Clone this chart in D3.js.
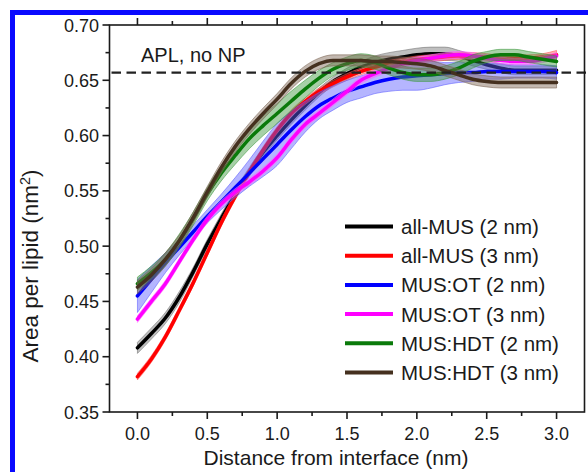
<!DOCTYPE html>
<html>
<head>
<meta charset="utf-8">
<script src="https://cdn.jsdelivr.net/npm/d3@7"></script>
<style>
    body { margin: 0; background: #fff; }
    svg text { font-family: "Liberation Sans", Arial, sans-serif; fill: #1a1a1a; }
</style>
</head>
<body>
<svg width="588" height="472"></svg>
<script>
    // distance from interface (nm)
    const distance = [0.0, 0.1, 0.2, 0.3, 0.4, 0.5, 0.6, 0.7, 0.8, 0.9, 1.0,
        1.1, 1.2, 1.3, 1.4, 1.5, 1.6, 1.7, 1.8, 1.9, 2.0,
        2.1, 2.2, 2.3, 2.4, 2.5, 2.6, 2.7, 2.8, 2.9, 3.0];

    // area per lipid (nm2), mean and spread
    const allMus2 = [0.408, 0.421, 0.435, 0.454, 0.477, 0.502, 0.525, 0.547, 0.567, 0.585, 0.600,
        0.614, 0.627, 0.639, 0.649, 0.656, 0.662, 0.666, 0.669, 0.671, 0.673,
        0.674, 0.674, 0.672, 0.668, 0.664, 0.661, 0.659, 0.659, 0.659, 0.659];
    const allMus2Sd = [0.005, 0.005, 0.005, 0.005, 0.004, 0.004, 0.004, 0.004, 0.004, 0.004, 0.004,
        0.004, 0.004, 0.004, 0.004, 0.005, 0.005, 0.006, 0.006, 0.006, 0.006,
        0.006, 0.006, 0.005, 0.005, 0.004, 0.004, 0.004, 0.004, 0.004, 0.004];

    const allMus3 = [0.382, 0.398, 0.418, 0.442, 0.467, 0.494, 0.521, 0.545, 0.567, 0.587, 0.605,
        0.620, 0.631, 0.640, 0.647, 0.653, 0.658, 0.662, 0.665, 0.667, 0.669,
        0.670, 0.671, 0.672, 0.672, 0.671, 0.670, 0.670, 0.670, 0.671, 0.673];
    const allMus3Sd = [0.003, 0.003, 0.003, 0.003, 0.003, 0.003, 0.003, 0.003, 0.003, 0.003, 0.003,
        0.003, 0.003, 0.003, 0.003, 0.003, 0.003, 0.003, 0.003, 0.003, 0.003,
        0.003, 0.003, 0.003, 0.003, 0.003, 0.003, 0.003, 0.003, 0.003, 0.004];

    const musOt2 = [0.455, 0.470, 0.485, 0.499, 0.513, 0.527, 0.540, 0.553, 0.566, 0.579, 0.592,
        0.605, 0.617, 0.627, 0.634, 0.640, 0.644, 0.648, 0.651, 0.653, 0.654,
        0.655, 0.656, 0.657, 0.657, 0.658, 0.658, 0.658, 0.658, 0.658, 0.657];
    const musOt2Sd = [0.015, 0.012, 0.009, 0.007, 0.006, 0.006, 0.007, 0.009, 0.012, 0.016, 0.019,
        0.017, 0.014, 0.012, 0.011, 0.010, 0.010, 0.010, 0.011, 0.012, 0.013,
        0.012, 0.010, 0.009, 0.008, 0.007, 0.007, 0.006, 0.006, 0.006, 0.006];

    const musOt3 = [0.434, 0.450, 0.466, 0.486, 0.506, 0.524, 0.538, 0.549, 0.558, 0.568, 0.580,
        0.596, 0.610, 0.620, 0.630, 0.640, 0.650, 0.656, 0.661, 0.665, 0.668,
        0.670, 0.672, 0.673, 0.672, 0.670, 0.668, 0.667, 0.667, 0.669, 0.672];
    const musOt3Sd = [0.003, 0.003, 0.003, 0.003, 0.003, 0.003, 0.003, 0.003, 0.003, 0.003, 0.003,
        0.003, 0.003, 0.003, 0.003, 0.003, 0.003, 0.003, 0.003, 0.003, 0.003,
        0.003, 0.003, 0.003, 0.003, 0.003, 0.003, 0.003, 0.003, 0.003, 0.003];

    const musHdt2 = [0.466, 0.476, 0.488, 0.505, 0.525, 0.547, 0.566, 0.582, 0.597, 0.609, 0.620,
        0.631, 0.642, 0.652, 0.660, 0.665, 0.668, 0.666, 0.661, 0.657, 0.655,
        0.655, 0.657, 0.661, 0.667, 0.671, 0.673, 0.673, 0.671, 0.669, 0.667];
    const musHdt2Sd = [0.006, 0.006, 0.006, 0.006, 0.006, 0.006, 0.007, 0.008, 0.009, 0.009, 0.009,
        0.009, 0.008, 0.007, 0.006, 0.006, 0.006, 0.006, 0.006, 0.006, 0.006,
        0.006, 0.006, 0.006, 0.006, 0.005, 0.005, 0.005, 0.005, 0.005, 0.005];

    const musHdt3 = [0.463, 0.474, 0.488, 0.505, 0.526, 0.549, 0.571, 0.590, 0.606, 0.620, 0.633,
        0.647, 0.658, 0.665, 0.668, 0.668, 0.668, 0.667, 0.667, 0.666, 0.665,
        0.663, 0.659, 0.655, 0.651, 0.649, 0.648, 0.648, 0.648, 0.648, 0.648];
    const musHdt3Sd = [0.006, 0.006, 0.006, 0.005, 0.005, 0.005, 0.005, 0.005, 0.005, 0.005, 0.005,
        0.005, 0.005, 0.005, 0.005, 0.005, 0.005, 0.005, 0.005, 0.005, 0.005,
        0.005, 0.005, 0.005, 0.005, 0.005, 0.005, 0.005, 0.005, 0.005, 0.005];

    const seriesNames = ["all-MUS (2 nm)", "all-MUS (3 nm)", "MUS:OT (2 nm)",
        "MUS:OT (3 nm)", "MUS:HDT (2 nm)", "MUS:HDT (3 nm)"];
    const seriesMeans = [allMus2, allMus3, musOt2, musOt3, musHdt2, musHdt3];
    const seriesSds = [allMus2Sd, allMus3Sd, musOt2Sd, musOt3Sd, musHdt2Sd, musHdt3Sd];
    const lineColors = ["#000000", "#ff0000", "#0000ff", "#ff00ff", "#0a7a0a", "#45301f"];
    const bandColors = ["#707070", "#ff5050", "#5a5aff", "#ff60ff", "#3c963c", "#7a6250"];

    const apl = 0.657; // APL without NP
    const xTicks = [0.0, 0.5, 1.0, 1.5, 2.0, 2.5, 3.0];
    const yTicks = [0.35, 0.40, 0.45, 0.50, 0.55, 0.60, 0.65, 0.70];

    let svg = d3.select("svg");

    // blue frame of the figure
    svg.append("path")
        .attr("d", "M12.5,472 V12.5 H588")
        .attr("fill", "none")
        .attr("stroke", "#0a0aff")
        .attr("stroke-width", 5);

    let plotLeft = 109.5, plotRight = 584.5, plotTop = 25, plotBottom = 412;

    let x = d3.scaleLinear().domain([-0.2, 3.2]).range([plotLeft, plotRight]);
    let y = d3.scaleLinear().domain([0.35, 0.70]).range([plotBottom, plotTop]);

    // bands and mean lines
    let area = d3.area()
        .x(d => x(d.d))
        .y0(d => y(d.m - d.s))
        .y1(d => y(d.m + d.s))
        .curve(d3.curveMonotoneX);
    let line = d3.line()
        .x(d => x(d.d))
        .y(d => y(d.m))
        .curve(d3.curveMonotoneX);

    let curves = svg.append("g").attr("id", "curves");
    seriesMeans.forEach((means, i) => {
        let pts = distance.map((d, j) => ({ d: d, m: means[j], s: seriesSds[i][j] }));
        curves.append("path")
            .datum(pts)
            .attr("d", area)
            .attr("fill", bandColors[i])
            .attr("fill-opacity", 0.45)
            .attr("stroke", bandColors[i])
            .attr("stroke-opacity", 0.7)
            .attr("stroke-width", 0.8);
        curves.append("path")
            .datum(pts)
            .attr("d", line)
            .attr("fill", "none")
            .attr("stroke", lineColors[i])
            .attr("stroke-width", 3.5)
            .attr("stroke-linecap", "round");
    });

    // reference line
    svg.append("line")
        .attr("x1", plotLeft + 2).attr("x2", 588)
        .attr("y1", y(apl)).attr("y2", y(apl))
        .attr("stroke", "#222")
        .attr("stroke-width", 2.2)
        .attr("stroke-dasharray", "9.5,5.5");

    svg.append("text")
        .attr("x", 141).attr("y", 62)
        .style("font-size", "20px")
        .text("APL, no NP");

    // axes
    let axes = svg.append("g").attr("stroke", "#1a1a1a").attr("stroke-width", 1.6);
    axes.append("rect")
        .attr("x", plotLeft).attr("y", plotTop)
        .attr("width", plotRight - plotLeft).attr("height", plotBottom - plotTop)
        .attr("fill", "none");

    let xMinor = d3.range(-0.25, 3.26, 0.25).filter(v => v > -0.2 && v < 3.2);
    let yMinor = d3.range(0.35, 0.701, 0.025);

    xMinor.forEach(v => {
        let major = xTicks.some(t => Math.abs(t - v) < 1e-6);
        let len = major ? 7 : 4;
        axes.append("line").attr("x1", x(v)).attr("x2", x(v))
            .attr("y1", plotBottom).attr("y2", plotBottom + len);
        axes.append("line").attr("x1", x(v)).attr("x2", x(v))
            .attr("y1", plotTop).attr("y2", plotTop - len);
    });
    yMinor.forEach(v => {
        let major = yTicks.some(t => Math.abs(t - v) < 1e-6);
        let len = major ? 7 : 4;
        axes.append("line").attr("x1", plotLeft).attr("x2", plotLeft - len)
            .attr("y1", y(v)).attr("y2", y(v));
    });

    svg.append("g").selectAll("text")
        .data(xTicks)
        .enter()
        .append("text")
        .attr("x", d => x(d))
        .attr("y", 440)
        .attr("text-anchor", "middle")
        .style("font-size", "18px")
        .text(d => d.toFixed(1));

    svg.append("g").selectAll("text")
        .data(yTicks)
        .enter()
        .append("text")
        .attr("x", 99)
        .attr("y", d => y(d) + 6.5)
        .attr("text-anchor", "end")
        .style("font-size", "18px")
        .text(d => d.toFixed(2));

    svg.append("text")
        .attr("x", 336).attr("y", 465)
        .attr("text-anchor", "middle")
        .style("font-size", "21px")
        .text("Distance from interface (nm)");

    let yTitle = svg.append("text")
        .attr("transform", "translate(38," + 266 + ") rotate(-90)")
        .attr("text-anchor", "middle")
        .style("font-size", "22.5px");
    yTitle.append("tspan").text("Area per lipid (nm");
    yTitle.append("tspan").attr("dy", -8).style("font-size", "14.5px").text("2");
    yTitle.append("tspan").attr("dy", 8).text(")");

    // legend
    let legend = svg.append("g").attr("id", "legend");
    seriesNames.forEach((name, i) => {
        let ly = 226.5 + i * 29.2;
        legend.append("line")
            .attr("x1", 345).attr("x2", 393)
            .attr("y1", ly).attr("y2", ly)
            .attr("stroke", lineColors[i])
            .attr("stroke-width", 4);
        legend.append("text")
            .attr("x", 401).attr("y", ly + 7.5)
            .style("font-size", "20.5px")
            .text(name);
    });
</script>
</body>
</html>
